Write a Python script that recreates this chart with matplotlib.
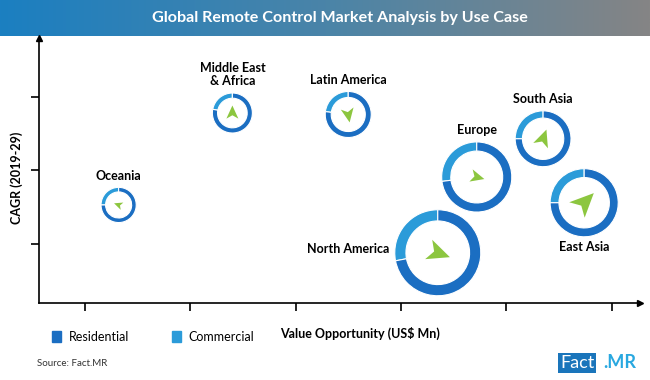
import numpy as np
import matplotlib
matplotlib.use("Agg")
import matplotlib.pyplot as plt
from matplotlib.patches import Wedge, Polygon, Patch
from matplotlib.transforms import ScaledTranslation, Affine2D
from matplotlib.colors import LinearSegmentedColormap

plt.rcParams['font.family'] = ['Lato', 'DejaVu Sans']

# ---- data ----
regions = ['Oceania', 'Middle East\n& Africa', 'Latin America', 'Europe',
           'South Asia', 'East Asia', 'North America']
value_opportunity = [1.32, 2.40, 3.50, 4.72, 5.35, 5.74, 4.35]
cagr = [1.53, 2.78, 2.76, 1.91, 2.43, 1.56, 0.88]
bubble_size = [3.1, 4.0, 5.3, 12.3, 7.8, 11.6, 18.5]
commercial_share = [0.25, 0.22, 0.23, 0.27, 0.25, 0.25, 0.28]
trend_angle = [160, 90, -80, -15, 70, 45, -20]
trend_size = [0.55, 0.75, 0.7, 0.45, 0.7, 0.8, 0.6]
label_side = ['above', 'above', 'above', 'above', 'above', 'below', 'left']

x_ticks = [1, 2, 3, 4, 5, 6]
y_ticks = [1, 2, 3]

RES_COL = '#1b6ec2'
COM_COL = '#2b9bd9'
ARROW_COL = '#8cc63f'

fig = plt.figure(figsize=(6.5, 3.8), dpi=100)

# title banner with gradient
ban = fig.add_axes([0, 1 - 36 / 380, 1, 36 / 380])
cmap = LinearSegmentedColormap.from_list('ban', ['#1b7fc1', '#4a84a8', '#858585'])
ban.imshow(np.linspace(0, 1, 256)[None, :], aspect='auto', cmap=cmap, extent=[0, 1, 0, 1])
ban.set_axis_off()
ban.text(0.523, 0.5, 'Global Remote Control Market Analysis by Use Case', color='white',
         fontsize=11.6, fontweight='bold', ha='center', va='center')

ax = fig.add_axes([39 / 650, 1 - 303 / 380, 601 / 650, 265 / 380])
ax.set_xlim(0.564, 6.27)
ax.set_ylim(0.197, 3.80)
for s in ['top', 'right']:
    ax.spines[s].set_visible(False)
for s in ['left', 'bottom']:
    ax.spines[s].set_linewidth(1.2)
ax.set_xticks(x_ticks)
ax.set_yticks(y_ticks)
ax.set_xticklabels([])
ax.set_yticklabels([])
ax.tick_params(direction='out', length=6, width=1.2)
ax.plot(1, 0, '>k', ms=4, transform=ax.transAxes, clip_on=False)
ax.plot(0, 1, '^k', ms=4, transform=ax.transAxes, clip_on=False)

fig.text(17 / 650, 1 - 178 / 380, 'CAGR (2019-29)', fontsize=9, fontweight='bold',
         rotation=90, ha='center', va='center')

arrow_shape = np.array([[1, 0], [-0.75, 0.8], [-0.3, 0], [-0.75, -0.8]])

for i, name in enumerate(regions):
    r = 0.1 * np.sqrt(bubble_size[i])  # inches
    off = fig.dpi_scale_trans + ScaledTranslation(value_opportunity[i], cagr[i], ax.transData)
    th = 90 + 360 * commercial_share[i]
    ax.add_patch(Wedge((0, 0), r, 90, th, width=r * 0.26, facecolor=COM_COL,
                       edgecolor='white', lw=0.8, transform=off, clip_on=False))
    ax.add_patch(Wedge((0, 0), r, th, 450, width=r * 0.26, facecolor=RES_COL,
                       edgecolor='white', lw=0.8, transform=off, clip_on=False))
    a = trend_size[i] * r * 0.5
    tr = Affine2D().scale(a).rotate_deg(trend_angle[i]) + off
    ax.add_patch(Polygon(arrow_shape, closed=True, facecolor=ARROW_COL, edgecolor='none',
                         transform=tr, clip_on=False))
    rp = r * 72
    if label_side[i] == 'above':
        xy_off, ha, va = (0, rp + 4), 'center', 'bottom'
    elif label_side[i] == 'below':
        xy_off, ha, va = (0, -rp - 3), 'center', 'top'
    else:
        xy_off, ha, va = (-rp - 4, 3), 'right', 'center'
    ax.annotate(name, (value_opportunity[i], cagr[i]), xytext=xy_off,
                textcoords='offset points', ha=ha, va=va, fontsize=9,
                fontweight='bold', linespacing=1.1, annotation_clip=False)

fig.text(280 / 650, 1 - 333 / 380, 'Value Opportunity (US$ Mn)', fontsize=9,
         fontweight='bold', ha='left', va='center')

fig.legend(handles=[Patch(color=RES_COL, label='Residential'),
                    Patch(color=COM_COL, label='Commercial')],
           loc='center left', bbox_to_anchor=(52 / 650, 1 - 337 / 380), ncol=2,
           frameon=False, fontsize=9, handlelength=0.75, handleheight=0.95,
           handletextpad=0.6, columnspacing=3.4, borderpad=0, borderaxespad=0)

fig.text(37 / 650, 1 - 363 / 380, 'Source: Fact.MR', fontsize=7, color='#333333',
         ha='left', va='center')

# logo
fig.text(560 / 650, 1 - 363 / 380, 'Fact', fontsize=13, color='white', ha='left',
         va='center', bbox=dict(boxstyle='square,pad=0.1', fc='#1a75bb', ec='none'))
fig.text(603 / 650, 1 - 363 / 380, '.MR', fontsize=13, color='#29a8e0',
         fontweight='bold', ha='left', va='center')

fig.savefig('out.png', dpi=100)
